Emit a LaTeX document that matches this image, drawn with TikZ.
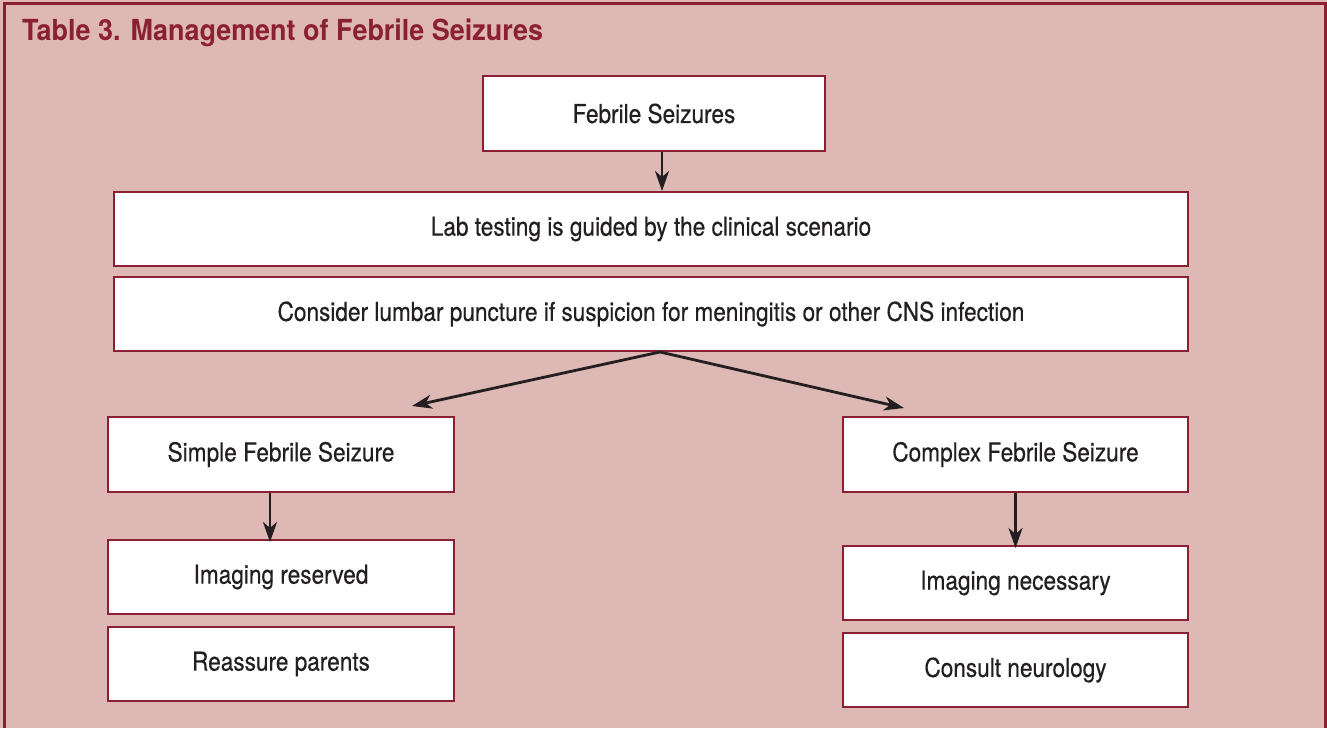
\documentclass[tikz,border=0pt]{standalone}
\usepackage{fontspec}
\setmainfont{TeX Gyre Heros}[FakeStretch=0.87,FakeBold=0.4]
\newfontfamily\titlefont{TeX Gyre Heros}[FakeStretch=0.93]
\usetikzlibrary{arrows.meta}
\definecolor{bgpink}{HTML}{DDB8B5}
\definecolor{darkred}{HTML}{8B2035}
\definecolor{inkblack}{HTML}{231F20}
\tikzset{
  box/.style={draw=darkred, line width=2pt, fill=white, rectangle, inner sep=0pt,
    font=\fontsize{26}{30}\selectfont, text=inkblack},
  flow/.style={draw=inkblack, line width=2.8pt, -{Stealth[length=20pt,width=14pt,inset=6pt]}}
}
\begin{document}
\begin{tikzpicture}[x=1pt,y=-1pt]
\useasboundingbox (0,0) rectangle (1327,728);
\fill[bgpink] (0,0) rectangle (1327,728);
\draw[darkred, line width=2.5pt] (4.5,728) -- (4.5,3.5) -- (1325.5,3.5) -- (1325.5,728);
\node[anchor=base west, inner sep=0pt, text=darkred, font=\titlefont\fontsize{29}{33}\selectfont\bfseries] (title) at (22,40) {Table 3. Management of Febrile Seizures};

\node[box, minimum width=342pt, minimum height=75pt] (feb) at (654,113.5) {Febrile Seizures};
\node[box, minimum width=1074pt, minimum height=74pt] (lab) at (651,229) {Lab testing is guided by the clinical scenario};
\node[box, minimum width=1074pt, minimum height=74pt] (lp) at (651,314) {Consider lumbar puncture if suspicion for meningitis or other CNS infection};
\node[box, minimum width=346pt, minimum height=75pt] (simple) at (281,454.5) {Simple Febrile Seizure};
\node[box, minimum width=346pt, minimum height=74pt] (imgres) at (281,577) {Imaging reserved};
\node[box, minimum width=346pt, minimum height=74pt] (reass) at (281,664) {Reassure parents};
\node[box, minimum width=345pt, minimum height=75pt] (complex) at (1015.5,454.5) {Complex Febrile Seizure};
\node[box, minimum width=345pt, minimum height=74pt] (imgnec) at (1015.5,583) {Imaging necessary};
\node[box, minimum width=345pt, minimum height=74pt] (consult) at (1015.5,670) {Consult neurology};

\coordinate (split) at ([xshift=9pt]lp.south);
\coordinate (lend) at (412,406);
\coordinate (rend) at (904,408);

\draw[flow] ([xshift=8pt]feb.south) -- ([xshift=8pt]feb.south |- lab.north);
\draw[flow] (split) -- (lend);
\draw[flow] (split) -- (rend);
\draw[flow] ([xshift=-11pt]simple.south) -- ([xshift=-11pt,yshift=-3pt]simple.south |- imgres.north);
\draw[flow] (complex.south) -- ([yshift=-3pt]complex.south |- imgnec.north);
\end{tikzpicture}
\end{document}
